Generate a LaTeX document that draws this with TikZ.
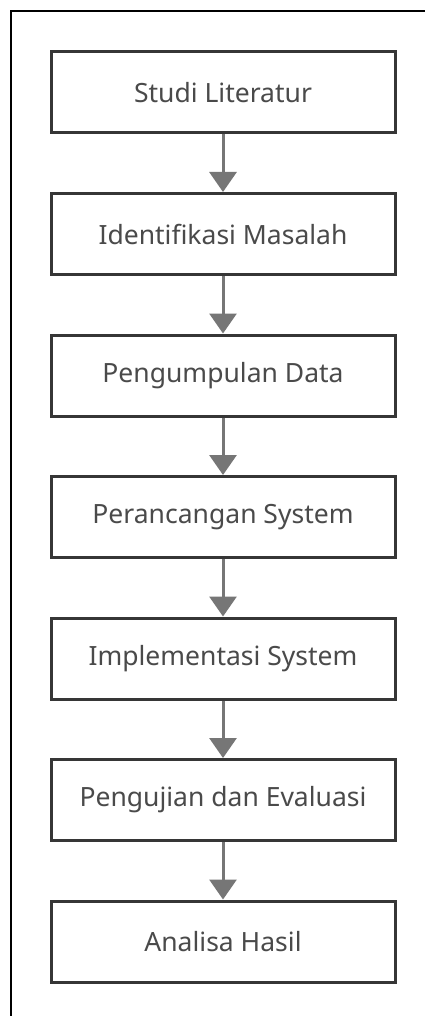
\documentclass[tikz,border=0pt]{standalone}
\usepackage{fontspec}
\setmainfont{Noto Sans}
\usetikzlibrary{arrows.meta}
\definecolor{boxline}{HTML}{363636}
\definecolor{txt}{HTML}{4A4A4A}
\definecolor{arr}{HTML}{767676}
\tikzset{
  stepbox/.style={draw=boxline, line width=3pt, fill=white, minimum width=344pt, minimum height=81pt, inner sep=0pt, text=txt, font=\fontsize{26.5}{31}\selectfont},
  flow/.style={draw=arr, line width=3pt, -{Triangle[width=27pt,length=20pt]}},
}
\begin{document}
\begin{tikzpicture}[x=1pt,y=1pt]
\useasboundingbox (0,0) rectangle (425,-1016);
\fill[white] (0,0) rectangle (425,-1016);
\draw[black, line width=1.5pt] (11,-1030) -- (11,-11) -- (440,-11);
\node[stepbox] (s1) at (223,-92.5) {Studi Literatur};
\node[stepbox] (s2) at (223,-234) {Identifikasi Masalah};
\node[stepbox] (s3) at (223,-375.5) {Pengumpulan Data};
\node[stepbox] (s4) at (223,-517) {Perancangan System};
\node[stepbox] (s5) at (223,-658.5) {Implementasi System};
\node[stepbox] (s6) at (223,-800) {Pengujian dan Evaluasi};
\node[stepbox] (s7) at (223,-941.5) {Analisa Hasil};
\foreach \a/\b in {s1/s2,s2/s3,s3/s4,s4/s5,s5/s6,s6/s7}
  \draw[flow] (\a.south) -- (\b.north);
\end{tikzpicture}
\end{document}
